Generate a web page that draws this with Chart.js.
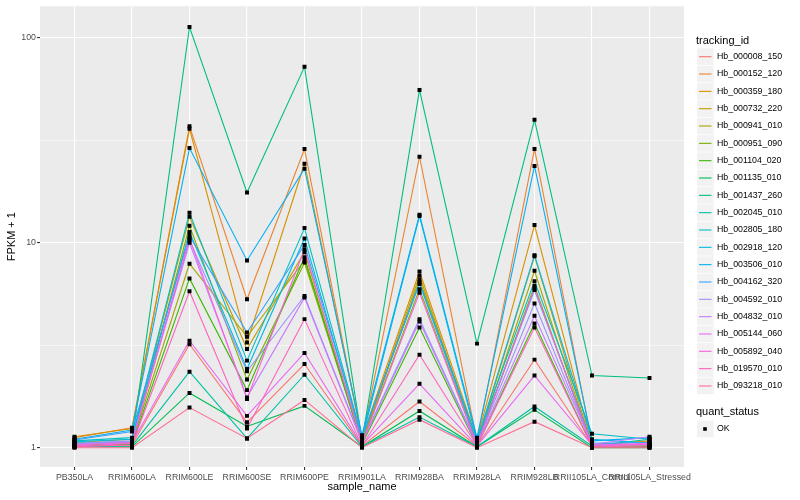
<!DOCTYPE html>
<html>
<head>
<meta charset="utf-8">
<script src="https://cdn.jsdelivr.net/npm/chart.js@4.4.0/dist/chart.umd.min.js"></script>
<style>
body { margin: 0; background: #ffffff; }
</style>
</head>
<body>
<canvas id="FpkmChart" width="800" height="500"></canvas>
<script>
// samples on the x axis
const sampleNames = ['PB350LA', 'RRIM600LA', 'RRIM600LE', 'RRIM600SE', 'RRIM600PE', 'RRIM901LA',
    'RRIM928BA', 'RRIM928LA', 'RRIM928LB', 'RRII105LA_Control', 'RRII105LA_Stressed'];

const trackingIds = ['Hb_000008_150', 'Hb_000152_120', 'Hb_000359_180', 'Hb_000732_220', 'Hb_000941_010',
    'Hb_000951_090', 'Hb_001104_020', 'Hb_001135_010', 'Hb_001437_260', 'Hb_002045_010',
    'Hb_002805_180', 'Hb_002918_120', 'Hb_003506_010', 'Hb_004162_320', 'Hb_004592_010',
    'Hb_004832_010', 'Hb_005144_060', 'Hb_005892_040', 'Hb_019570_010', 'Hb_093218_010'];

// ggplot hue palette, 20 levels
const seriesColors = ['#F8766D', '#EA8331', '#D89000', '#C09B00', '#A3A500', '#7CAE00', '#39B600', '#00BB4E',
    '#00BF7D', '#00C1A3', '#00BFC4', '#00BAE0', '#00B0F6', '#35A2FF', '#9590FF', '#C77CFF',
    '#E76BF3', '#FA62DB', '#FF62BC', '#FF6C91'];

// FPKM + 1 per sample
const hb_000008_150 = [1.02, 1.03, 3.2, 1.33, 2.56, 1.02, 1.68, 1.02, 2.69, 1.02, 1.04];
const hb_000152_120 = [1.12, 1.25, 37, 5.3, 28.7, 1.1, 26.3, 1.08, 28.7, 1.05, 1.03];
const hb_000359_180 = [1.13, 1.24, 36, 3.26, 24.3, 1.12, 7.24, 1.1, 12.2, 1.03, 1.08];
const hb_000732_220 = [1.06, 1.1, 13.4, 3.03, 9.0, 1.08, 6.9, 1.05, 8.6, 1.02, 1.02];
const hb_000941_010 = [1.04, 1.06, 7.9, 3.48, 8.2, 1.06, 6.6, 1.04, 7.3, 1.01, 1.02];
const hb_000951_090 = [1.03, 1.05, 12.1, 2.15, 8.0, 1.05, 5.94, 1.03, 6.17, 1.01, 1.01];
const hb_001104_020 = [1.02, 1.04, 6.7, 1.91, 8.5, 1.04, 3.86, 1.02, 4.04, 1.01, 1.01];
const hb_001135_010 = [1.01, 1.01, 1.85, 1.27, 1.6, 1.01, 1.51, 1.01, 1.53, 1.0, 1.0];
const hb_001437_260 = [1.05, 1.07, 113, 17.6, 72.2, 1.08, 55.7, 3.22, 39.8, 2.25, 2.19];
const hb_002045_010 = [1.01, 1.02, 2.35, 1.11, 2.27, 1.01, 1.41, 1.01, 1.59, 1.02, 1.1];
const hb_002805_180 = [1.08, 1.12, 14.0, 2.66, 11.8, 1.12, 6.4, 1.1, 6.5, 1.17, 1.1];
const hb_002918_120 = [1.07, 1.1, 11.3, 2.42, 10.5, 1.1, 13.5, 1.08, 8.7, 1.1, 1.05];
const hb_003506_010 = [1.1, 1.22, 29, 8.2, 23, 1.15, 13.7, 1.12, 23.7, 1.08, 1.12];
const hb_004162_320 = [1.09, 1.2, 10.8, 3.65, 9.75, 1.13, 6.3, 1.06, 5.88, 1.05, 1.06];
const hb_004592_010 = [1.05, 1.08, 10.3, 2.36, 5.5, 1.07, 4.24, 1.04, 5.06, 1.03, 1.03];
const hb_004832_010 = [1.04, 1.07, 10.0, 1.76, 5.4, 1.06, 4.13, 1.03, 4.4, 1.04, 1.13];
const hb_005144_060 = [1.03, 1.06, 3.33, 1.43, 2.9, 1.03, 2.05, 1.02, 2.25, 1.03, 1.05];
const hb_005892_040 = [1.02, 1.05, 10.5, 1.73, 9.3, 1.05, 5.7, 1.03, 6.0, 1.02, 1.04];
const hb_019570_010 = [1.01, 1.03, 5.8, 1.24, 4.24, 1.02, 2.84, 1.02, 3.86, 1.01, 1.02];
const hb_093218_010 = [1.0, 1.0, 1.57, 1.11, 1.71, 1.0, 1.37, 1.0, 1.34, 1.0, 1.0];

const fpkmValues = [hb_000008_150, hb_000152_120, hb_000359_180, hb_000732_220, hb_000941_010,
    hb_000951_090, hb_001104_020, hb_001135_010, hb_001437_260, hb_002045_010,
    hb_002805_180, hb_002918_120, hb_003506_010, hb_004162_320, hb_004592_010,
    hb_004832_010, hb_005144_060, hb_005892_040, hb_019570_010, hb_093218_010];

// y axis breaks (log10)
const yMajorTicks = [1, 10, 100];
const yMinorTicks = [3.162, 31.62];

const FONT = '"Liberation Sans", Arial, sans-serif';

function toPoints(values){
    return values.map((v, i) => ({ x: i, y: v }));
}

// one line per tracking id, later ids drawn on top like ggplot
let datasets = fpkmValues.map((values, k) => ({
    label: trackingIds[k],
    data: toPoints(values),
    borderColor: seriesColors[k],
    backgroundColor: seriesColors[k],
    borderWidth: 1.1,
    pointRadius: 0,
    fill: false,
    order: 100 - k
}));

// black "OK" markers on top of everything
let allPoints = [];
fpkmValues.forEach(values => { allPoints = allPoints.concat(toPoints(values)); });
datasets.push({
    label: 'OK',
    data: allPoints,
    showLine: false,
    pointStyle: 'rect',
    pointRadius: 2.8,
    pointBackgroundColor: '#000000',
    pointBorderWidth: 0,
    order: 0
});

const panelBackground = {
    id: 'panelBackground',
    beforeDraw(chart){
        const a = chart.chartArea;
        const ctx = chart.ctx;
        ctx.save();
        ctx.fillStyle = '#EBEBEB';
        ctx.fillRect(a.left, a.top, a.right - a.left, a.bottom - a.top);
        ctx.restore();
    }
};

const ggLegend = {
    id: 'ggLegend',
    afterDraw(chart){
        const ctx = chart.ctx;
        ctx.save();
        ctx.textBaseline = 'middle';
        ctx.textAlign = 'left';
        ctx.fillStyle = '#000000';
        ctx.font = '11px ' + FONT;
        ctx.fillText('tracking_id', 696, 40.5);
        ctx.font = '8.8px ' + FONT;
        trackingIds.forEach((id, i) => {
            const y = 56.7 + i * 17.33;
            ctx.fillStyle = '#F2F2F2';
            ctx.fillRect(697, y - 8.3, 16.6, 16.6);
            ctx.strokeStyle = seriesColors[i];
            ctx.lineWidth = 1.1;
            ctx.beginPath();
            ctx.moveTo(699, y);
            ctx.lineTo(711.5, y);
            ctx.stroke();
            ctx.fillStyle = '#000000';
            ctx.fillText(id, 717, y);
        });
        ctx.font = '11px ' + FONT;
        ctx.fillText('quant_status', 696, 412.3);
        ctx.fillStyle = '#F2F2F2';
        ctx.fillRect(697, 420.7, 16.6, 16.6);
        ctx.fillStyle = '#000000';
        ctx.fillRect(703.2, 427.2, 3.6, 3.6);
        ctx.font = '8.8px ' + FONT;
        ctx.fillText('OK', 717, 429);
        ctx.restore();
    }
};

const ctx1 = document.getElementById('FpkmChart').getContext('2d');
new Chart(ctx1, {
    type: 'line',
    data: { datasets: datasets },
    options: {
        responsive: false,
        animation: false,
        layout: { padding: { left: 0, top: 5, right: 116, bottom: 0 } },
        plugins: {
            legend: { display: false },
            tooltip: { enabled: false }
        },
        scales: {
            x: {
                type: 'linear',
                min: -0.6,
                max: sampleNames.length - 0.4,
                afterBuildTicks: scale => {
                    scale.ticks = sampleNames.map((n, i) => ({ value: i }));
                },
                afterFit: scale => { scale.height = 33; },
                border: { display: false },
                grid: {
                    color: '#FFFFFF',
                    lineWidth: 1.1,
                    tickLength: 3,
                    tickColor: '#333333'
                },
                ticks: {
                    autoSkip: false,
                    maxRotation: 0,
                    padding: 2,
                    color: '#4D4D4D',
                    font: { size: 8.8, family: FONT },
                    callback: value => sampleNames[value]
                },
                title: {
                    display: true,
                    text: 'sample_name',
                    color: '#000000',
                    font: { size: 11, family: FONT },
                    padding: { top: 0, bottom: 6 }
                }
            },
            y: {
                type: 'logarithmic',
                min: 0.805,
                max: 142.6,
                afterBuildTicks: scale => {
                    scale.ticks = yMajorTicks.concat(yMinorTicks).sort((a, b) => a - b).map(v => ({ value: v }));
                },
                afterFit: scale => { scale.width = 40; },
                border: { display: false },
                grid: {
                    color: '#FFFFFF',
                    lineWidth: c => yMajorTicks.includes(c.tick.value) ? 1.1 : 0.55,
                    tickLength: 3,
                    tickColor: c => yMajorTicks.includes(c.tick.value) ? '#333333' : 'rgba(0,0,0,0)'
                },
                ticks: {
                    padding: 1,
                    color: '#4D4D4D',
                    font: { size: 8.8, family: FONT },
                    callback: value => yMajorTicks.includes(value) ? String(value) : ''
                },
                title: {
                    display: true,
                    text: 'FPKM + 1',
                    color: '#000000',
                    font: { size: 11, family: FONT },
                    padding: { top: 5, bottom: 0 }
                }
            }
        }
    },
    plugins: [panelBackground, ggLegend]
});
</script>
</body>
</html>
